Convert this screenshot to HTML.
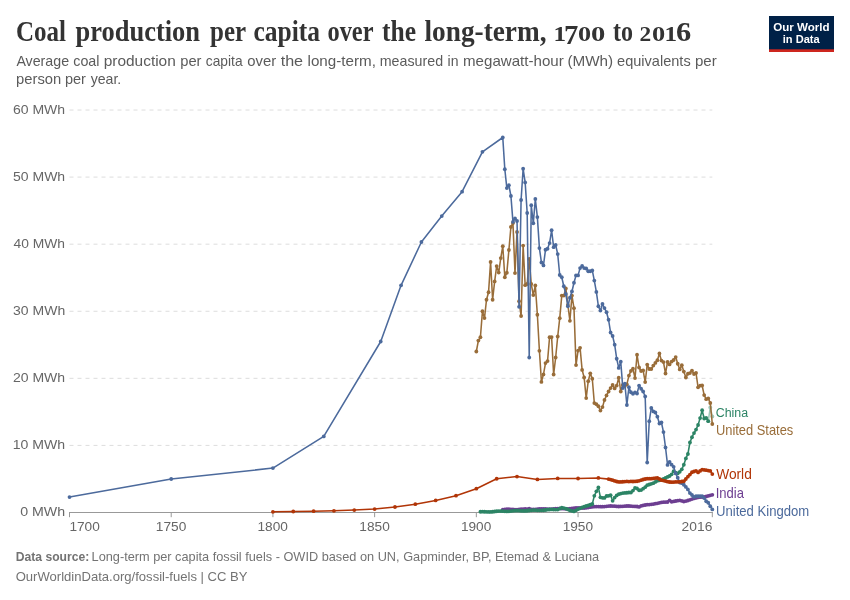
<!DOCTYPE html>
<html lang="en"><head><meta charset="utf-8"><title>Coal production per capita over the long-term, 1700 to 2016</title>
<style>
html,body{margin:0;padding:0;background:#fff;}
body{width:850px;height:600px;overflow:hidden;font-family:"Liberation Sans",sans-serif;}
svg{display:block;}
text{font-family:"Liberation Sans",sans-serif;}
.title text{font-family:"Liberation Serif",serif;font-weight:bold;font-size:27.5px;fill:#333;}
.sub text{font-size:14.8px;fill:#5b5b5b;}
.logot text{font-size:11.8px;font-weight:bold;fill:#fff;}
.ax text{font-size:13.4px;fill:#666;}
.foot text{font-size:13px;fill:#737373;}
.lab text{font-size:13.9px;}
</style></head><body>
<svg width="850" height="600" viewBox="0 0 850 600">
<rect width="850" height="600" fill="#fff"/>
<g class="title">
<text x="16.0" y="41.0" style="font-size:29.2px" textLength="50.03" lengthAdjust="spacingAndGlyphs">Coal</text>
<text x="75.5" y="41.0" style="font-size:29.2px" textLength="124.5" lengthAdjust="spacingAndGlyphs">production</text>
<text x="210.0" y="41.0" style="font-size:29.2px" textLength="36.04" lengthAdjust="spacingAndGlyphs">per</text>
<text x="253.5" y="41.0" style="font-size:29.2px" textLength="66.51" lengthAdjust="spacingAndGlyphs">capita</text>
<text x="327.5" y="41.0" style="font-size:29.2px" textLength="46.02" lengthAdjust="spacingAndGlyphs">over</text>
<text x="382.0" y="41.0" style="font-size:29.2px" textLength="34.01" lengthAdjust="spacingAndGlyphs">the</text>
<text x="424.5" y="41.0" style="font-size:29.2px" textLength="122.02" lengthAdjust="spacingAndGlyphs">long-term,</text>
<text x="553.5" y="41.0" style="font-size:21.8px" textLength="12.55" lengthAdjust="spacingAndGlyphs">1</text><text x="564.0" y="43.8" style="font-size:26.3px" textLength="14.32" lengthAdjust="spacingAndGlyphs">7</text><text x="578.0" y="41.0" style="font-size:21.8px" textLength="13.13" lengthAdjust="spacingAndGlyphs">0</text><text x="591.0" y="41.0" style="font-size:21.8px" textLength="14.32" lengthAdjust="spacingAndGlyphs">0</text>
<text x="613.0" y="41.0" style="font-size:29.2px" textLength="20.03" lengthAdjust="spacingAndGlyphs">to</text>
<text x="639.5" y="41.0" style="font-size:21.8px" textLength="11.71" lengthAdjust="spacingAndGlyphs">2</text><text x="652.0" y="41.0" style="font-size:21.8px" textLength="13.22" lengthAdjust="spacingAndGlyphs">0</text><text x="664.5" y="41.0" style="font-size:21.8px" textLength="12.55" lengthAdjust="spacingAndGlyphs">1</text><text x="676.0" y="41.0" style="font-size:27.2px" textLength="15.22" lengthAdjust="spacingAndGlyphs">6</text>
</g>
<g class="sub"><text x="16.38" y="66.0" style="font-size:14.8px" textLength="52.72" lengthAdjust="spacingAndGlyphs">Average</text>
<text x="73.28" y="66.0" style="font-size:14.8px" textLength="26.21" lengthAdjust="spacingAndGlyphs">coal</text>
<text x="103.66" y="66.0" style="font-size:14.8px" textLength="72.14" lengthAdjust="spacingAndGlyphs">production</text>
<text x="180.24" y="66.0" style="font-size:14.8px" textLength="21.24" lengthAdjust="spacingAndGlyphs">per</text>
<text x="205.86" y="66.0" style="font-size:14.8px" textLength="36.67" lengthAdjust="spacingAndGlyphs">capita</text>
<text x="247.2" y="66.0" style="font-size:14.8px" textLength="28.95" lengthAdjust="spacingAndGlyphs">over</text>
<text x="280.65" y="66.0" style="font-size:14.8px" textLength="22.46" lengthAdjust="spacingAndGlyphs">the</text>
<text x="307.56" y="66.0" style="font-size:14.8px" textLength="68.35" lengthAdjust="spacingAndGlyphs">long-term,</text>
<text x="379.75" y="66.0" style="font-size:14.8px" textLength="63.31" lengthAdjust="spacingAndGlyphs">measured</text>
<text x="447.56" y="66.0" style="font-size:14.8px" textLength="10.94" lengthAdjust="spacingAndGlyphs">in</text>
<text x="463.04" y="66.0" style="font-size:14.8px" textLength="100.75" lengthAdjust="spacingAndGlyphs">megawatt-hour</text>
<text x="567.4" y="66.0" style="font-size:14.8px" textLength="45.79" lengthAdjust="spacingAndGlyphs">(MWh)</text>
<text x="617.08" y="66.0" style="font-size:14.8px" textLength="73.6" lengthAdjust="spacingAndGlyphs">equivalents</text>
<text x="695.0" y="66.0" style="font-size:14.8px" textLength="21.76" lengthAdjust="spacingAndGlyphs">per</text>
<text x="16.04" y="84.3" style="font-size:14.8px" textLength="45.17" lengthAdjust="spacingAndGlyphs">person</text>
<text x="64.9" y="84.3" style="font-size:14.8px" textLength="20.97" lengthAdjust="spacingAndGlyphs">per</text>
<text x="90.67" y="84.3" style="font-size:14.8px" textLength="30.61" lengthAdjust="spacingAndGlyphs">year.</text>
</g>
<g id="logo"><rect x="769" y="16" width="65" height="36" fill="#002147"/><rect x="769" y="49.3" width="65" height="2.7" fill="#CE261E"/>
<g class="logot"><text x="773.19" y="30.8" style="font-size:11.8px" textLength="56.33" lengthAdjust="spacingAndGlyphs">Our World</text>
<text x="782.7" y="42.6" style="font-size:11.8px" textLength="36.99" lengthAdjust="spacingAndGlyphs">in Data</text>
</g></g>
<g stroke="#ddd" stroke-width="1" stroke-dasharray="4,4" fill="none"><line x1="69.5" x2="712.3" y1="445.42" y2="445.42"/><line x1="69.5" x2="712.3" y1="378.34" y2="378.34"/><line x1="69.5" x2="712.3" y1="311.26" y2="311.26"/><line x1="69.5" x2="712.3" y1="244.18" y2="244.18"/><line x1="69.5" x2="712.3" y1="177.10" y2="177.10"/><line x1="69.5" x2="712.3" y1="110.02" y2="110.02"/></g>
<g class="ax"><text x="20.15" y="516.4" style="font-size:13.4px" textLength="44.95" lengthAdjust="spacingAndGlyphs">0 MWh</text>
<text x="12.65" y="449.33" style="font-size:13.4px" textLength="52.43" lengthAdjust="spacingAndGlyphs">10 MWh</text>
<text x="12.97" y="382.26" style="font-size:13.4px" textLength="52.18" lengthAdjust="spacingAndGlyphs">20 MWh</text>
<text x="13.07" y="315.19" style="font-size:13.4px" textLength="52.1" lengthAdjust="spacingAndGlyphs">30 MWh</text>
<text x="13.5" y="248.12" style="font-size:13.4px" textLength="51.51" lengthAdjust="spacingAndGlyphs">40 MWh</text>
<text x="13.03" y="181.05" style="font-size:13.4px" textLength="52.15" lengthAdjust="spacingAndGlyphs">50 MWh</text>
<text x="12.96" y="113.98" style="font-size:13.4px" textLength="52.19" lengthAdjust="spacingAndGlyphs">60 MWh</text>
<text x="69.41" y="530.6" style="font-size:13.4px" textLength="30.41" lengthAdjust="spacingAndGlyphs">1700</text>
<text x="155.79" y="530.6" style="font-size:13.4px" textLength="30.47" lengthAdjust="spacingAndGlyphs">1750</text>
<text x="257.49" y="530.6" style="font-size:13.4px" textLength="30.4" lengthAdjust="spacingAndGlyphs">1800</text>
<text x="359.32" y="530.6" style="font-size:13.4px" textLength="30.43" lengthAdjust="spacingAndGlyphs">1850</text>
<text x="460.9" y="530.6" style="font-size:13.4px" textLength="30.35" lengthAdjust="spacingAndGlyphs">1900</text>
<text x="562.67" y="530.6" style="font-size:13.4px" textLength="30.38" lengthAdjust="spacingAndGlyphs">1950</text>
<text x="681.58" y="530.6" style="font-size:13.4px" textLength="30.77" lengthAdjust="spacingAndGlyphs">2016</text>
</g>
<g stroke="#999" stroke-width="1"><line x1="69" x2="712.8" y1="512.5" y2="512.5"/><line x1="69.50" x2="69.50" y1="512" y2="517.2"/><line x1="171.21" x2="171.21" y1="512" y2="517.2"/><line x1="272.92" x2="272.92" y1="512" y2="517.2"/><line x1="374.63" x2="374.63" y1="512" y2="517.2"/><line x1="476.34" x2="476.34" y1="512" y2="517.2"/><line x1="578.05" x2="578.05" y1="512" y2="517.2"/><line x1="712.31" x2="712.31" y1="512" y2="517.2"/></g>
<g id="lines">
<path d="M502.78,509.53 L504.82,509.33 L506.85,509.21 L508.89,509.21 L510.92,509.33 L512.96,509.48 L514.99,509.58 L517.02,509.56 L519.06,509.41 L521.09,509.21 L523.13,509.04 L525.16,508.98 L527.19,509.05 L529.23,508.63 L531.26,509.39 L533.30,509.42 L535.33,509.31 L537.37,509.11 L539.40,508.90 L541.43,508.78 L543.47,508.79 L545.50,508.90 L547.54,509.04 L549.57,509.13 L551.61,509.08 L553.64,508.92 L555.67,508.70 L557.71,508.53 L559.74,508.47 L561.78,508.54 L563.81,508.68 L565.84,508.80 L567.88,508.82 L569.91,508.71 L571.95,508.50 L573.98,508.21 L576.02,508.00 L578.05,507.93 L580.08,507.96 L582.12,508.01 L584.15,507.99 L586.19,507.85 L588.22,507.59 L590.26,507.20 L592.29,506.87 L594.32,506.66 L596.36,506.58 L598.39,506.56 L600.43,506.66 L602.46,506.66 L604.49,506.53 L606.53,506.32 L608.56,506.11 L610.60,506.00 L612.63,506.06 L614.67,506.22 L616.70,506.40 L618.73,506.49 L620.77,506.46 L622.80,506.32 L624.84,506.14 L626.87,506.02 L628.90,506.02 L630.94,506.14 L632.97,506.32 L635.01,506.46 L637.04,506.50 L639.08,506.95 L641.11,505.97 L643.14,505.44 L645.18,505.02 L647.21,504.72 L649.25,504.53 L651.28,504.36 L653.32,504.10 L655.35,503.71 L657.38,503.29 L659.42,502.84 L661.45,502.46 L663.49,502.21 L665.52,502.07 L667.55,501.98 L669.59,500.42 L671.62,501.74 L673.66,501.41 L675.69,501.01 L677.73,500.63 L679.76,500.35 L681.79,500.88 L683.83,501.50 L685.86,501.04 L687.90,500.50 L689.93,499.82 L691.97,499.04 L694.00,498.43 L696.03,497.88 L698.07,497.47 L700.10,497.17 L702.14,497.01 L704.17,496.81 L706.20,496.49 L708.24,495.96 L710.27,495.36 L712.31,494.79" fill="none" stroke="#6D3E91" stroke-width="1.55" stroke-linejoin="round" stroke-linecap="round"/>
<g fill="#6D3E91"><circle cx="502.78" cy="509.53" r="1.9"/><circle cx="504.82" cy="509.33" r="1.9"/><circle cx="506.85" cy="509.21" r="1.9"/><circle cx="508.89" cy="509.21" r="1.9"/><circle cx="510.92" cy="509.33" r="1.9"/><circle cx="512.96" cy="509.48" r="1.9"/><circle cx="514.99" cy="509.58" r="1.9"/><circle cx="517.02" cy="509.56" r="1.9"/><circle cx="519.06" cy="509.41" r="1.9"/><circle cx="521.09" cy="509.21" r="1.9"/><circle cx="523.13" cy="509.04" r="1.9"/><circle cx="525.16" cy="508.98" r="1.9"/><circle cx="527.19" cy="509.05" r="1.9"/><circle cx="529.23" cy="508.63" r="1.9"/><circle cx="531.26" cy="509.39" r="1.9"/><circle cx="533.30" cy="509.42" r="1.9"/><circle cx="535.33" cy="509.31" r="1.9"/><circle cx="537.37" cy="509.11" r="1.9"/><circle cx="539.40" cy="508.90" r="1.9"/><circle cx="541.43" cy="508.78" r="1.9"/><circle cx="543.47" cy="508.79" r="1.9"/><circle cx="545.50" cy="508.90" r="1.9"/><circle cx="547.54" cy="509.04" r="1.9"/><circle cx="549.57" cy="509.13" r="1.9"/><circle cx="551.61" cy="509.08" r="1.9"/><circle cx="553.64" cy="508.92" r="1.9"/><circle cx="555.67" cy="508.70" r="1.9"/><circle cx="557.71" cy="508.53" r="1.9"/><circle cx="559.74" cy="508.47" r="1.9"/><circle cx="561.78" cy="508.54" r="1.9"/><circle cx="563.81" cy="508.68" r="1.9"/><circle cx="565.84" cy="508.80" r="1.9"/><circle cx="567.88" cy="508.82" r="1.9"/><circle cx="569.91" cy="508.71" r="1.9"/><circle cx="571.95" cy="508.50" r="1.9"/><circle cx="573.98" cy="508.21" r="1.9"/><circle cx="576.02" cy="508.00" r="1.9"/><circle cx="578.05" cy="507.93" r="1.9"/><circle cx="580.08" cy="507.96" r="1.9"/><circle cx="582.12" cy="508.01" r="1.9"/><circle cx="584.15" cy="507.99" r="1.9"/><circle cx="586.19" cy="507.85" r="1.9"/><circle cx="588.22" cy="507.59" r="1.9"/><circle cx="590.26" cy="507.20" r="1.9"/><circle cx="592.29" cy="506.87" r="1.9"/><circle cx="594.32" cy="506.66" r="1.9"/><circle cx="596.36" cy="506.58" r="1.9"/><circle cx="598.39" cy="506.56" r="1.9"/><circle cx="600.43" cy="506.66" r="1.9"/><circle cx="602.46" cy="506.66" r="1.9"/><circle cx="604.49" cy="506.53" r="1.9"/><circle cx="606.53" cy="506.32" r="1.9"/><circle cx="608.56" cy="506.11" r="1.9"/><circle cx="610.60" cy="506.00" r="1.9"/><circle cx="612.63" cy="506.06" r="1.9"/><circle cx="614.67" cy="506.22" r="1.9"/><circle cx="616.70" cy="506.40" r="1.9"/><circle cx="618.73" cy="506.49" r="1.9"/><circle cx="620.77" cy="506.46" r="1.9"/><circle cx="622.80" cy="506.32" r="1.9"/><circle cx="624.84" cy="506.14" r="1.9"/><circle cx="626.87" cy="506.02" r="1.9"/><circle cx="628.90" cy="506.02" r="1.9"/><circle cx="630.94" cy="506.14" r="1.9"/><circle cx="632.97" cy="506.32" r="1.9"/><circle cx="635.01" cy="506.46" r="1.9"/><circle cx="637.04" cy="506.50" r="1.9"/><circle cx="639.08" cy="506.95" r="1.9"/><circle cx="641.11" cy="505.97" r="1.9"/><circle cx="643.14" cy="505.44" r="1.9"/><circle cx="645.18" cy="505.02" r="1.9"/><circle cx="647.21" cy="504.72" r="1.9"/><circle cx="649.25" cy="504.53" r="1.9"/><circle cx="651.28" cy="504.36" r="1.9"/><circle cx="653.32" cy="504.10" r="1.9"/><circle cx="655.35" cy="503.71" r="1.9"/><circle cx="657.38" cy="503.29" r="1.9"/><circle cx="659.42" cy="502.84" r="1.9"/><circle cx="661.45" cy="502.46" r="1.9"/><circle cx="663.49" cy="502.21" r="1.9"/><circle cx="665.52" cy="502.07" r="1.9"/><circle cx="667.55" cy="501.98" r="1.9"/><circle cx="669.59" cy="500.42" r="1.9"/><circle cx="671.62" cy="501.74" r="1.9"/><circle cx="673.66" cy="501.41" r="1.9"/><circle cx="675.69" cy="501.01" r="1.9"/><circle cx="677.73" cy="500.63" r="1.9"/><circle cx="679.76" cy="500.35" r="1.9"/><circle cx="681.79" cy="500.88" r="1.9"/><circle cx="683.83" cy="501.50" r="1.9"/><circle cx="685.86" cy="501.04" r="1.9"/><circle cx="687.90" cy="500.50" r="1.9"/><circle cx="689.93" cy="499.82" r="1.9"/><circle cx="691.97" cy="499.04" r="1.9"/><circle cx="694.00" cy="498.43" r="1.9"/><circle cx="696.03" cy="497.88" r="1.9"/><circle cx="698.07" cy="497.47" r="1.9"/><circle cx="700.10" cy="497.17" r="1.9"/><circle cx="702.14" cy="497.01" r="1.9"/><circle cx="704.17" cy="496.81" r="1.9"/><circle cx="706.20" cy="496.49" r="1.9"/><circle cx="708.24" cy="495.96" r="1.9"/><circle cx="710.27" cy="495.36" r="1.9"/><circle cx="712.31" cy="494.79" r="1.9"/></g>

<path d="M480.41,511.77 L482.44,511.69 L484.48,511.74 L486.51,511.85 L488.55,511.93 L490.58,511.90 L492.61,511.74 L494.65,511.50 L496.68,511.26 L498.72,511.12 L500.75,511.11 L502.78,511.21 L504.82,511.33 L506.85,511.38 L508.89,511.29 L510.92,511.09 L512.96,510.86 L514.99,510.68 L517.02,510.62 L519.06,510.69 L521.09,510.81 L523.13,510.90 L525.16,510.88 L527.19,510.73 L529.23,510.50 L531.26,510.28 L533.30,510.16 L535.33,510.18 L537.37,510.28 L539.40,510.37 L541.43,510.36 L543.47,510.23 L545.50,509.99 L547.54,509.72 L549.57,509.51 L551.61,509.43 L553.64,509.48 L555.67,509.57 L557.71,509.62 L559.74,508.69 L561.78,507.64 L563.81,508.08 L565.84,508.55 L567.88,509.43 L569.91,510.43 L571.95,510.92 L573.98,511.42 L576.02,510.37 L578.05,509.20 L580.08,508.29 L582.12,507.37 L584.15,506.63 L586.19,506.01 L588.22,505.51 L590.26,504.77 L592.29,503.98 L594.32,495.84 L596.36,491.37 L598.39,487.44 L600.43,497.29 L602.46,497.85 L604.49,497.94 L606.53,496.01 L608.56,495.78 L610.60,495.25 L612.63,500.79 L614.67,497.53 L616.70,495.45 L618.73,494.16 L620.77,493.54 L622.80,493.03 L624.84,492.93 L626.87,492.77 L628.90,492.48 L630.94,492.51 L632.97,490.53 L635.01,487.89 L637.04,488.50 L639.08,490.25 L641.11,490.03 L643.14,488.64 L645.18,487.15 L647.21,485.18 L649.25,484.52 L651.28,483.84 L653.32,483.15 L655.35,481.94 L657.38,480.84 L659.42,480.32 L661.45,479.67 L663.49,478.89 L665.52,478.00 L667.55,476.97 L669.59,475.98 L671.62,474.36 L673.66,471.16 L675.69,472.54 L677.73,473.40 L679.76,471.85 L681.79,469.37 L683.83,464.75 L685.86,458.40 L687.90,454.00 L689.93,442.50 L691.97,437.25 L694.00,433.10 L696.03,429.60 L698.07,425.00 L700.10,418.10 L702.14,410.25 L704.17,418.50 L706.20,418.00 L708.24,421.20" fill="none" stroke="#2C8465" stroke-width="1.55" stroke-linejoin="round" stroke-linecap="round"/>
<g fill="#2C8465"><circle cx="480.41" cy="511.77" r="1.9"/><circle cx="482.44" cy="511.69" r="1.9"/><circle cx="484.48" cy="511.74" r="1.9"/><circle cx="486.51" cy="511.85" r="1.9"/><circle cx="488.55" cy="511.93" r="1.9"/><circle cx="490.58" cy="511.90" r="1.9"/><circle cx="492.61" cy="511.74" r="1.9"/><circle cx="494.65" cy="511.50" r="1.9"/><circle cx="496.68" cy="511.26" r="1.9"/><circle cx="498.72" cy="511.12" r="1.9"/><circle cx="500.75" cy="511.11" r="1.9"/><circle cx="502.78" cy="511.21" r="1.9"/><circle cx="504.82" cy="511.33" r="1.9"/><circle cx="506.85" cy="511.38" r="1.9"/><circle cx="508.89" cy="511.29" r="1.9"/><circle cx="510.92" cy="511.09" r="1.9"/><circle cx="512.96" cy="510.86" r="1.9"/><circle cx="514.99" cy="510.68" r="1.9"/><circle cx="517.02" cy="510.62" r="1.9"/><circle cx="519.06" cy="510.69" r="1.9"/><circle cx="521.09" cy="510.81" r="1.9"/><circle cx="523.13" cy="510.90" r="1.9"/><circle cx="525.16" cy="510.88" r="1.9"/><circle cx="527.19" cy="510.73" r="1.9"/><circle cx="529.23" cy="510.50" r="1.9"/><circle cx="531.26" cy="510.28" r="1.9"/><circle cx="533.30" cy="510.16" r="1.9"/><circle cx="535.33" cy="510.18" r="1.9"/><circle cx="537.37" cy="510.28" r="1.9"/><circle cx="539.40" cy="510.37" r="1.9"/><circle cx="541.43" cy="510.36" r="1.9"/><circle cx="543.47" cy="510.23" r="1.9"/><circle cx="545.50" cy="509.99" r="1.9"/><circle cx="547.54" cy="509.72" r="1.9"/><circle cx="549.57" cy="509.51" r="1.9"/><circle cx="551.61" cy="509.43" r="1.9"/><circle cx="553.64" cy="509.48" r="1.9"/><circle cx="555.67" cy="509.57" r="1.9"/><circle cx="557.71" cy="509.62" r="1.9"/><circle cx="559.74" cy="508.69" r="1.9"/><circle cx="561.78" cy="507.64" r="1.9"/><circle cx="563.81" cy="508.08" r="1.9"/><circle cx="565.84" cy="508.55" r="1.9"/><circle cx="567.88" cy="509.43" r="1.9"/><circle cx="569.91" cy="510.43" r="1.9"/><circle cx="571.95" cy="510.92" r="1.9"/><circle cx="573.98" cy="511.42" r="1.9"/><circle cx="576.02" cy="510.37" r="1.9"/><circle cx="578.05" cy="509.20" r="1.9"/><circle cx="580.08" cy="508.29" r="1.9"/><circle cx="582.12" cy="507.37" r="1.9"/><circle cx="584.15" cy="506.63" r="1.9"/><circle cx="586.19" cy="506.01" r="1.9"/><circle cx="588.22" cy="505.51" r="1.9"/><circle cx="590.26" cy="504.77" r="1.9"/><circle cx="592.29" cy="503.98" r="1.9"/><circle cx="594.32" cy="495.84" r="1.9"/><circle cx="596.36" cy="491.37" r="1.9"/><circle cx="598.39" cy="487.44" r="1.9"/><circle cx="600.43" cy="497.29" r="1.9"/><circle cx="602.46" cy="497.85" r="1.9"/><circle cx="604.49" cy="497.94" r="1.9"/><circle cx="606.53" cy="496.01" r="1.9"/><circle cx="608.56" cy="495.78" r="1.9"/><circle cx="610.60" cy="495.25" r="1.9"/><circle cx="612.63" cy="500.79" r="1.9"/><circle cx="614.67" cy="497.53" r="1.9"/><circle cx="616.70" cy="495.45" r="1.9"/><circle cx="618.73" cy="494.16" r="1.9"/><circle cx="620.77" cy="493.54" r="1.9"/><circle cx="622.80" cy="493.03" r="1.9"/><circle cx="624.84" cy="492.93" r="1.9"/><circle cx="626.87" cy="492.77" r="1.9"/><circle cx="628.90" cy="492.48" r="1.9"/><circle cx="630.94" cy="492.51" r="1.9"/><circle cx="632.97" cy="490.53" r="1.9"/><circle cx="635.01" cy="487.89" r="1.9"/><circle cx="637.04" cy="488.50" r="1.9"/><circle cx="639.08" cy="490.25" r="1.9"/><circle cx="641.11" cy="490.03" r="1.9"/><circle cx="643.14" cy="488.64" r="1.9"/><circle cx="645.18" cy="487.15" r="1.9"/><circle cx="647.21" cy="485.18" r="1.9"/><circle cx="649.25" cy="484.52" r="1.9"/><circle cx="651.28" cy="483.84" r="1.9"/><circle cx="653.32" cy="483.15" r="1.9"/><circle cx="655.35" cy="481.94" r="1.9"/><circle cx="657.38" cy="480.84" r="1.9"/><circle cx="659.42" cy="480.32" r="1.9"/><circle cx="661.45" cy="479.67" r="1.9"/><circle cx="663.49" cy="478.89" r="1.9"/><circle cx="665.52" cy="478.00" r="1.9"/><circle cx="667.55" cy="476.97" r="1.9"/><circle cx="669.59" cy="475.98" r="1.9"/><circle cx="671.62" cy="474.36" r="1.9"/><circle cx="673.66" cy="471.16" r="1.9"/><circle cx="675.69" cy="472.54" r="1.9"/><circle cx="677.73" cy="473.40" r="1.9"/><circle cx="679.76" cy="471.85" r="1.9"/><circle cx="681.79" cy="469.37" r="1.9"/><circle cx="683.83" cy="464.75" r="1.9"/><circle cx="685.86" cy="458.40" r="1.9"/><circle cx="687.90" cy="454.00" r="1.9"/><circle cx="689.93" cy="442.50" r="1.9"/><circle cx="691.97" cy="437.25" r="1.9"/><circle cx="694.00" cy="433.10" r="1.9"/><circle cx="696.03" cy="429.60" r="1.9"/><circle cx="698.07" cy="425.00" r="1.9"/><circle cx="700.10" cy="418.10" r="1.9"/><circle cx="702.14" cy="410.25" r="1.9"/><circle cx="704.17" cy="418.50" r="1.9"/><circle cx="706.20" cy="418.00" r="1.9"/><circle cx="708.24" cy="421.20" r="1.9"/></g>
<g opacity="0.45"><path d="M708.24,421.20 L710.27,407.50 L712.31,416.50" fill="none" stroke="#2C8465" stroke-width="1.55" stroke-linejoin="round" stroke-linecap="round"/>
<g fill="#2C8465"><circle cx="708.24" cy="421.20" r="1.9"/><circle cx="710.27" cy="407.50" r="1.9"/><circle cx="712.31" cy="416.50" r="1.9"/></g>
</g>
<path d="M476.34,351.50 L478.37,340.60 L480.41,337.25 L482.44,311.25 L484.48,318.10 L486.51,299.75 L488.55,292.25 L490.58,261.90 L492.61,299.75 L494.65,281.40 L496.68,266.10 L498.72,272.60 L500.75,258.10 L502.78,246.25 L504.82,277.25 L506.85,272.75 L508.89,250.00 L510.92,226.90 L512.96,223.10 L514.99,273.10 L517.02,232.00 L519.06,301.25 L521.09,316.00 L523.13,245.60 L525.16,285.20 L527.19,284.00 L529.23,259.00 L531.26,284.00 L533.30,295.10 L535.33,285.50 L537.37,314.75 L539.40,350.80 L541.43,381.90 L543.47,374.40 L545.50,363.10 L547.54,361.10 L549.57,337.25 L551.61,337.10 L553.64,374.50 L555.67,357.50 L557.71,336.50 L559.74,318.20 L561.78,295.60 L563.81,295.60 L565.84,288.50 L567.88,305.00 L569.91,320.80 L571.95,295.60 L573.98,308.20 L576.02,365.10 L578.05,350.60 L580.08,347.80 L582.12,369.90 L584.15,377.50 L586.19,398.10 L588.22,381.25 L590.26,373.30 L592.29,378.75 L594.32,403.10 L596.36,404.20 L598.39,406.25 L600.43,410.60 L602.46,407.10 L604.49,400.00 L606.53,395.40 L608.56,391.50 L610.60,388.10 L612.63,385.00 L614.67,388.40 L616.70,385.60 L618.73,377.75 L620.77,391.50 L622.80,385.00 L624.84,386.00 L626.87,384.40 L628.90,375.60 L630.94,370.90 L632.97,368.75 L635.01,378.10 L637.04,354.75 L639.08,367.50 L641.11,371.00 L643.14,370.40 L645.18,382.10 L647.21,364.60 L649.25,369.00 L651.28,369.00 L653.32,365.60 L655.35,362.90 L657.38,360.25 L659.42,353.50 L661.45,360.60 L663.49,362.10 L665.52,373.50 L667.55,361.90 L669.59,364.40 L671.62,361.60 L673.66,360.00 L675.69,357.10 L677.73,363.75 L679.76,369.40 L681.79,365.25 L683.83,371.60 L685.86,377.50 L687.90,373.75 L689.93,373.10 L691.97,370.60 L694.00,374.00 L696.03,373.00 L698.07,387.30 L700.10,385.70 L702.14,385.50 L704.17,395.10 L706.20,399.20 L708.24,398.40 L710.27,403.00 L712.31,424.00" fill="none" stroke="#996D39" stroke-width="1.55" stroke-linejoin="round" stroke-linecap="round"/>
<g fill="#996D39"><circle cx="476.34" cy="351.50" r="1.9"/><circle cx="478.37" cy="340.60" r="1.9"/><circle cx="480.41" cy="337.25" r="1.9"/><circle cx="482.44" cy="311.25" r="1.9"/><circle cx="484.48" cy="318.10" r="1.9"/><circle cx="486.51" cy="299.75" r="1.9"/><circle cx="488.55" cy="292.25" r="1.9"/><circle cx="490.58" cy="261.90" r="1.9"/><circle cx="492.61" cy="299.75" r="1.9"/><circle cx="494.65" cy="281.40" r="1.9"/><circle cx="496.68" cy="266.10" r="1.9"/><circle cx="498.72" cy="272.60" r="1.9"/><circle cx="500.75" cy="258.10" r="1.9"/><circle cx="502.78" cy="246.25" r="1.9"/><circle cx="504.82" cy="277.25" r="1.9"/><circle cx="506.85" cy="272.75" r="1.9"/><circle cx="508.89" cy="250.00" r="1.9"/><circle cx="510.92" cy="226.90" r="1.9"/><circle cx="512.96" cy="223.10" r="1.9"/><circle cx="514.99" cy="273.10" r="1.9"/><circle cx="517.02" cy="232.00" r="1.9"/><circle cx="519.06" cy="301.25" r="1.9"/><circle cx="521.09" cy="316.00" r="1.9"/><circle cx="523.13" cy="245.60" r="1.9"/><circle cx="525.16" cy="285.20" r="1.9"/><circle cx="527.19" cy="284.00" r="1.9"/><circle cx="529.23" cy="259.00" r="1.9"/><circle cx="531.26" cy="284.00" r="1.9"/><circle cx="533.30" cy="295.10" r="1.9"/><circle cx="535.33" cy="285.50" r="1.9"/><circle cx="537.37" cy="314.75" r="1.9"/><circle cx="539.40" cy="350.80" r="1.9"/><circle cx="541.43" cy="381.90" r="1.9"/><circle cx="543.47" cy="374.40" r="1.9"/><circle cx="545.50" cy="363.10" r="1.9"/><circle cx="547.54" cy="361.10" r="1.9"/><circle cx="549.57" cy="337.25" r="1.9"/><circle cx="551.61" cy="337.10" r="1.9"/><circle cx="553.64" cy="374.50" r="1.9"/><circle cx="555.67" cy="357.50" r="1.9"/><circle cx="557.71" cy="336.50" r="1.9"/><circle cx="559.74" cy="318.20" r="1.9"/><circle cx="561.78" cy="295.60" r="1.9"/><circle cx="563.81" cy="295.60" r="1.9"/><circle cx="565.84" cy="288.50" r="1.9"/><circle cx="567.88" cy="305.00" r="1.9"/><circle cx="569.91" cy="320.80" r="1.9"/><circle cx="571.95" cy="295.60" r="1.9"/><circle cx="573.98" cy="308.20" r="1.9"/><circle cx="576.02" cy="365.10" r="1.9"/><circle cx="578.05" cy="350.60" r="1.9"/><circle cx="580.08" cy="347.80" r="1.9"/><circle cx="582.12" cy="369.90" r="1.9"/><circle cx="584.15" cy="377.50" r="1.9"/><circle cx="586.19" cy="398.10" r="1.9"/><circle cx="588.22" cy="381.25" r="1.9"/><circle cx="590.26" cy="373.30" r="1.9"/><circle cx="592.29" cy="378.75" r="1.9"/><circle cx="594.32" cy="403.10" r="1.9"/><circle cx="596.36" cy="404.20" r="1.9"/><circle cx="598.39" cy="406.25" r="1.9"/><circle cx="600.43" cy="410.60" r="1.9"/><circle cx="602.46" cy="407.10" r="1.9"/><circle cx="604.49" cy="400.00" r="1.9"/><circle cx="606.53" cy="395.40" r="1.9"/><circle cx="608.56" cy="391.50" r="1.9"/><circle cx="610.60" cy="388.10" r="1.9"/><circle cx="612.63" cy="385.00" r="1.9"/><circle cx="614.67" cy="388.40" r="1.9"/><circle cx="616.70" cy="385.60" r="1.9"/><circle cx="618.73" cy="377.75" r="1.9"/><circle cx="620.77" cy="391.50" r="1.9"/><circle cx="622.80" cy="385.00" r="1.9"/><circle cx="624.84" cy="386.00" r="1.9"/><circle cx="626.87" cy="384.40" r="1.9"/><circle cx="628.90" cy="375.60" r="1.9"/><circle cx="630.94" cy="370.90" r="1.9"/><circle cx="632.97" cy="368.75" r="1.9"/><circle cx="635.01" cy="378.10" r="1.9"/><circle cx="637.04" cy="354.75" r="1.9"/><circle cx="639.08" cy="367.50" r="1.9"/><circle cx="641.11" cy="371.00" r="1.9"/><circle cx="643.14" cy="370.40" r="1.9"/><circle cx="645.18" cy="382.10" r="1.9"/><circle cx="647.21" cy="364.60" r="1.9"/><circle cx="649.25" cy="369.00" r="1.9"/><circle cx="651.28" cy="369.00" r="1.9"/><circle cx="653.32" cy="365.60" r="1.9"/><circle cx="655.35" cy="362.90" r="1.9"/><circle cx="657.38" cy="360.25" r="1.9"/><circle cx="659.42" cy="353.50" r="1.9"/><circle cx="661.45" cy="360.60" r="1.9"/><circle cx="663.49" cy="362.10" r="1.9"/><circle cx="665.52" cy="373.50" r="1.9"/><circle cx="667.55" cy="361.90" r="1.9"/><circle cx="669.59" cy="364.40" r="1.9"/><circle cx="671.62" cy="361.60" r="1.9"/><circle cx="673.66" cy="360.00" r="1.9"/><circle cx="675.69" cy="357.10" r="1.9"/><circle cx="677.73" cy="363.75" r="1.9"/><circle cx="679.76" cy="369.40" r="1.9"/><circle cx="681.79" cy="365.25" r="1.9"/><circle cx="683.83" cy="371.60" r="1.9"/><circle cx="685.86" cy="377.50" r="1.9"/><circle cx="687.90" cy="373.75" r="1.9"/><circle cx="689.93" cy="373.10" r="1.9"/><circle cx="691.97" cy="370.60" r="1.9"/><circle cx="694.00" cy="374.00" r="1.9"/><circle cx="696.03" cy="373.00" r="1.9"/><circle cx="698.07" cy="387.30" r="1.9"/><circle cx="700.10" cy="385.70" r="1.9"/><circle cx="702.14" cy="385.50" r="1.9"/><circle cx="704.17" cy="395.10" r="1.9"/><circle cx="706.20" cy="399.20" r="1.9"/><circle cx="708.24" cy="398.40" r="1.9"/><circle cx="710.27" cy="403.00" r="1.9"/><circle cx="712.31" cy="424.00" r="1.9"/></g>

<path d="M69.50,497.10 L171.21,479.00 L272.92,468.10 L323.77,436.40 L380.73,341.50 L401.07,285.30 L421.42,242.00 L441.76,216.10 L462.10,191.70 L482.44,151.80 L502.78,137.50 L504.82,169.25 L506.85,188.10 L508.89,185.25 L510.92,196.00 L512.96,221.90 L514.99,218.50 L517.02,221.00 L519.06,306.80 L521.09,200.00 L523.13,168.75 L525.16,182.40 L527.19,213.00 L529.23,357.50 L531.26,205.25 L533.30,223.25 L535.33,199.00 L537.37,217.10 L539.40,248.10 L541.43,262.50 L543.47,265.40 L545.50,249.75 L547.54,248.75 L549.57,243.10 L551.61,230.25 L553.64,247.20 L555.67,245.00 L557.71,254.10 L559.74,275.00 L561.78,277.25 L563.81,286.25 L565.84,294.00 L567.88,306.25 L569.91,297.75 L571.95,291.50 L573.98,282.75 L576.02,275.40 L578.05,275.40 L580.08,268.10 L582.12,266.00 L584.15,268.10 L586.19,268.50 L588.22,271.25 L590.26,271.25 L592.29,270.40 L594.32,280.60 L596.36,291.90 L598.39,306.25 L600.43,310.60 L602.46,304.00 L604.49,308.10 L606.53,312.25 L608.56,319.75 L610.60,332.50 L612.63,336.00 L614.67,344.70 L616.70,358.75 L618.73,367.90 L620.77,361.70 L622.80,388.10 L624.84,383.75 L626.87,405.00 L628.90,387.25 L630.94,392.25 L632.97,393.75 L635.01,392.50 L637.04,393.50 L639.08,385.60 L641.11,388.75 L643.14,391.50 L645.18,396.50 L647.21,462.50 L649.25,421.25 L651.28,408.00 L653.32,411.40 L655.35,412.50 L657.38,416.70 L659.42,423.50 L661.45,422.50 L663.49,432.10 L665.52,447.50 L667.55,464.90 L669.59,462.00 L671.62,464.70 L673.66,466.80 L675.69,473.40 L677.73,477.75 L679.76,482.50 L681.79,483.20 L683.83,484.75 L685.86,486.90 L687.90,489.40 L689.93,493.10 L691.97,495.00 L694.00,496.90 L696.03,496.25 L698.07,496.25 L700.10,496.25 L702.14,496.25 L704.17,498.10 L706.20,501.25 L708.24,502.75 L710.27,506.25 L712.31,509.40" fill="none" stroke="#4C6A9C" stroke-width="1.55" stroke-linejoin="round" stroke-linecap="round"/>
<g fill="#4C6A9C"><circle cx="69.50" cy="497.10" r="1.9"/><circle cx="171.21" cy="479.00" r="1.9"/><circle cx="272.92" cy="468.10" r="1.9"/><circle cx="323.77" cy="436.40" r="1.9"/><circle cx="380.73" cy="341.50" r="1.9"/><circle cx="401.07" cy="285.30" r="1.9"/><circle cx="421.42" cy="242.00" r="1.9"/><circle cx="441.76" cy="216.10" r="1.9"/><circle cx="462.10" cy="191.70" r="1.9"/><circle cx="482.44" cy="151.80" r="1.9"/><circle cx="502.78" cy="137.50" r="1.9"/><circle cx="504.82" cy="169.25" r="1.9"/><circle cx="506.85" cy="188.10" r="1.9"/><circle cx="508.89" cy="185.25" r="1.9"/><circle cx="510.92" cy="196.00" r="1.9"/><circle cx="512.96" cy="221.90" r="1.9"/><circle cx="514.99" cy="218.50" r="1.9"/><circle cx="517.02" cy="221.00" r="1.9"/><circle cx="519.06" cy="306.80" r="1.9"/><circle cx="521.09" cy="200.00" r="1.9"/><circle cx="523.13" cy="168.75" r="1.9"/><circle cx="525.16" cy="182.40" r="1.9"/><circle cx="527.19" cy="213.00" r="1.9"/><circle cx="529.23" cy="357.50" r="1.9"/><circle cx="531.26" cy="205.25" r="1.9"/><circle cx="533.30" cy="223.25" r="1.9"/><circle cx="535.33" cy="199.00" r="1.9"/><circle cx="537.37" cy="217.10" r="1.9"/><circle cx="539.40" cy="248.10" r="1.9"/><circle cx="541.43" cy="262.50" r="1.9"/><circle cx="543.47" cy="265.40" r="1.9"/><circle cx="545.50" cy="249.75" r="1.9"/><circle cx="547.54" cy="248.75" r="1.9"/><circle cx="549.57" cy="243.10" r="1.9"/><circle cx="551.61" cy="230.25" r="1.9"/><circle cx="553.64" cy="247.20" r="1.9"/><circle cx="555.67" cy="245.00" r="1.9"/><circle cx="557.71" cy="254.10" r="1.9"/><circle cx="559.74" cy="275.00" r="1.9"/><circle cx="561.78" cy="277.25" r="1.9"/><circle cx="563.81" cy="286.25" r="1.9"/><circle cx="565.84" cy="294.00" r="1.9"/><circle cx="567.88" cy="306.25" r="1.9"/><circle cx="569.91" cy="297.75" r="1.9"/><circle cx="571.95" cy="291.50" r="1.9"/><circle cx="573.98" cy="282.75" r="1.9"/><circle cx="576.02" cy="275.40" r="1.9"/><circle cx="578.05" cy="275.40" r="1.9"/><circle cx="580.08" cy="268.10" r="1.9"/><circle cx="582.12" cy="266.00" r="1.9"/><circle cx="584.15" cy="268.10" r="1.9"/><circle cx="586.19" cy="268.50" r="1.9"/><circle cx="588.22" cy="271.25" r="1.9"/><circle cx="590.26" cy="271.25" r="1.9"/><circle cx="592.29" cy="270.40" r="1.9"/><circle cx="594.32" cy="280.60" r="1.9"/><circle cx="596.36" cy="291.90" r="1.9"/><circle cx="598.39" cy="306.25" r="1.9"/><circle cx="600.43" cy="310.60" r="1.9"/><circle cx="602.46" cy="304.00" r="1.9"/><circle cx="604.49" cy="308.10" r="1.9"/><circle cx="606.53" cy="312.25" r="1.9"/><circle cx="608.56" cy="319.75" r="1.9"/><circle cx="610.60" cy="332.50" r="1.9"/><circle cx="612.63" cy="336.00" r="1.9"/><circle cx="614.67" cy="344.70" r="1.9"/><circle cx="616.70" cy="358.75" r="1.9"/><circle cx="618.73" cy="367.90" r="1.9"/><circle cx="620.77" cy="361.70" r="1.9"/><circle cx="622.80" cy="388.10" r="1.9"/><circle cx="624.84" cy="383.75" r="1.9"/><circle cx="626.87" cy="405.00" r="1.9"/><circle cx="628.90" cy="387.25" r="1.9"/><circle cx="630.94" cy="392.25" r="1.9"/><circle cx="632.97" cy="393.75" r="1.9"/><circle cx="635.01" cy="392.50" r="1.9"/><circle cx="637.04" cy="393.50" r="1.9"/><circle cx="639.08" cy="385.60" r="1.9"/><circle cx="641.11" cy="388.75" r="1.9"/><circle cx="643.14" cy="391.50" r="1.9"/><circle cx="645.18" cy="396.50" r="1.9"/><circle cx="647.21" cy="462.50" r="1.9"/><circle cx="649.25" cy="421.25" r="1.9"/><circle cx="651.28" cy="408.00" r="1.9"/><circle cx="653.32" cy="411.40" r="1.9"/><circle cx="655.35" cy="412.50" r="1.9"/><circle cx="657.38" cy="416.70" r="1.9"/><circle cx="659.42" cy="423.50" r="1.9"/><circle cx="661.45" cy="422.50" r="1.9"/><circle cx="663.49" cy="432.10" r="1.9"/><circle cx="665.52" cy="447.50" r="1.9"/><circle cx="667.55" cy="464.90" r="1.9"/><circle cx="669.59" cy="462.00" r="1.9"/><circle cx="671.62" cy="464.70" r="1.9"/><circle cx="673.66" cy="466.80" r="1.9"/><circle cx="675.69" cy="473.40" r="1.9"/><circle cx="677.73" cy="477.75" r="1.9"/><circle cx="679.76" cy="482.50" r="1.9"/><circle cx="681.79" cy="483.20" r="1.9"/><circle cx="683.83" cy="484.75" r="1.9"/><circle cx="685.86" cy="486.90" r="1.9"/><circle cx="687.90" cy="489.40" r="1.9"/><circle cx="689.93" cy="493.10" r="1.9"/><circle cx="691.97" cy="495.00" r="1.9"/><circle cx="694.00" cy="496.90" r="1.9"/><circle cx="696.03" cy="496.25" r="1.9"/><circle cx="698.07" cy="496.25" r="1.9"/><circle cx="700.10" cy="496.25" r="1.9"/><circle cx="702.14" cy="496.25" r="1.9"/><circle cx="704.17" cy="498.10" r="1.9"/><circle cx="706.20" cy="501.25" r="1.9"/><circle cx="708.24" cy="502.75" r="1.9"/><circle cx="710.27" cy="506.25" r="1.9"/><circle cx="712.31" cy="509.40" r="1.9"/></g>

<path d="M272.92,511.80 L293.26,511.50 L313.60,511.20 L333.95,510.80 L354.29,510.10 L374.63,509.10 L394.97,507.00 L415.31,504.20 L435.66,500.40 L456.00,495.70 L476.34,488.70 L496.68,478.75 L517.02,476.60 L537.37,479.40 L557.71,478.40 L578.05,478.50 L598.39,477.90 L608.56,479.11 L610.60,479.53 L612.63,480.16 L614.67,480.95 L616.70,481.48 L618.73,481.89 L620.77,481.92 L622.80,481.77 L624.84,481.56 L626.87,481.45 L628.90,481.53 L630.94,481.46 L632.97,481.49 L635.01,481.46 L637.04,481.25 L639.08,480.84 L641.11,480.16 L643.14,479.50 L645.18,479.00 L647.21,478.71 L649.25,478.66 L651.28,478.63 L653.32,478.46 L655.35,478.08 L657.38,477.89 L659.42,479.00 L661.45,480.22 L663.49,480.54 L665.52,481.04 L667.55,481.63 L669.59,481.98 L671.62,482.14 L673.66,482.09 L675.69,481.93 L677.73,481.81 L679.76,481.85 L681.79,481.48 L683.83,481.25 L685.86,479.02 L687.90,476.65 L689.93,474.54 L691.97,472.27 L694.00,471.48 L696.03,470.81 L698.07,472.40 L700.10,470.94 L702.14,469.55 L704.17,469.94 L706.20,470.13 L708.24,470.57 L710.27,470.91 L712.31,474.07" fill="none" stroke="#B13507" stroke-width="1.55" stroke-linejoin="round" stroke-linecap="round"/>
<g fill="#B13507"><circle cx="272.92" cy="511.80" r="1.9"/><circle cx="293.26" cy="511.50" r="1.9"/><circle cx="313.60" cy="511.20" r="1.9"/><circle cx="333.95" cy="510.80" r="1.9"/><circle cx="354.29" cy="510.10" r="1.9"/><circle cx="374.63" cy="509.10" r="1.9"/><circle cx="394.97" cy="507.00" r="1.9"/><circle cx="415.31" cy="504.20" r="1.9"/><circle cx="435.66" cy="500.40" r="1.9"/><circle cx="456.00" cy="495.70" r="1.9"/><circle cx="476.34" cy="488.70" r="1.9"/><circle cx="496.68" cy="478.75" r="1.9"/><circle cx="517.02" cy="476.60" r="1.9"/><circle cx="537.37" cy="479.40" r="1.9"/><circle cx="557.71" cy="478.40" r="1.9"/><circle cx="578.05" cy="478.50" r="1.9"/><circle cx="598.39" cy="477.90" r="1.9"/><circle cx="608.56" cy="479.11" r="1.9"/><circle cx="610.60" cy="479.53" r="1.9"/><circle cx="612.63" cy="480.16" r="1.9"/><circle cx="614.67" cy="480.95" r="1.9"/><circle cx="616.70" cy="481.48" r="1.9"/><circle cx="618.73" cy="481.89" r="1.9"/><circle cx="620.77" cy="481.92" r="1.9"/><circle cx="622.80" cy="481.77" r="1.9"/><circle cx="624.84" cy="481.56" r="1.9"/><circle cx="626.87" cy="481.45" r="1.9"/><circle cx="628.90" cy="481.53" r="1.9"/><circle cx="630.94" cy="481.46" r="1.9"/><circle cx="632.97" cy="481.49" r="1.9"/><circle cx="635.01" cy="481.46" r="1.9"/><circle cx="637.04" cy="481.25" r="1.9"/><circle cx="639.08" cy="480.84" r="1.9"/><circle cx="641.11" cy="480.16" r="1.9"/><circle cx="643.14" cy="479.50" r="1.9"/><circle cx="645.18" cy="479.00" r="1.9"/><circle cx="647.21" cy="478.71" r="1.9"/><circle cx="649.25" cy="478.66" r="1.9"/><circle cx="651.28" cy="478.63" r="1.9"/><circle cx="653.32" cy="478.46" r="1.9"/><circle cx="655.35" cy="478.08" r="1.9"/><circle cx="657.38" cy="477.89" r="1.9"/><circle cx="659.42" cy="479.00" r="1.9"/><circle cx="661.45" cy="480.22" r="1.9"/><circle cx="663.49" cy="480.54" r="1.9"/><circle cx="665.52" cy="481.04" r="1.9"/><circle cx="667.55" cy="481.63" r="1.9"/><circle cx="669.59" cy="481.98" r="1.9"/><circle cx="671.62" cy="482.14" r="1.9"/><circle cx="673.66" cy="482.09" r="1.9"/><circle cx="675.69" cy="481.93" r="1.9"/><circle cx="677.73" cy="481.81" r="1.9"/><circle cx="679.76" cy="481.85" r="1.9"/><circle cx="681.79" cy="481.48" r="1.9"/><circle cx="683.83" cy="481.25" r="1.9"/><circle cx="685.86" cy="479.02" r="1.9"/><circle cx="687.90" cy="476.65" r="1.9"/><circle cx="689.93" cy="474.54" r="1.9"/><circle cx="691.97" cy="472.27" r="1.9"/><circle cx="694.00" cy="471.48" r="1.9"/><circle cx="696.03" cy="470.81" r="1.9"/><circle cx="698.07" cy="472.40" r="1.9"/><circle cx="700.10" cy="470.94" r="1.9"/><circle cx="702.14" cy="469.55" r="1.9"/><circle cx="704.17" cy="469.94" r="1.9"/><circle cx="706.20" cy="470.13" r="1.9"/><circle cx="708.24" cy="470.57" r="1.9"/><circle cx="710.27" cy="470.91" r="1.9"/><circle cx="712.31" cy="474.07" r="1.9"/></g>

</g>
<g class="lab">
<g fill="#2C8465"><text x="715.71" y="416.7" style="font-size:13.7px" textLength="32.42" lengthAdjust="spacingAndGlyphs">China</text>
</g><g fill="#996D39"><text x="715.96" y="435.2" style="font-size:13.9px" textLength="77.36" lengthAdjust="spacingAndGlyphs">United States</text>
</g><g fill="#B13507"><text x="716.19" y="478.8" style="font-size:13.9px" textLength="35.64" lengthAdjust="spacingAndGlyphs">World</text>
</g><g fill="#6D3E91"><text x="715.63" y="497.6" style="font-size:13.9px" textLength="28.26" lengthAdjust="spacingAndGlyphs">India</text>
</g><g fill="#4C6A9C"><text x="716.0" y="516.3" style="font-size:13.9px" textLength="93.29" lengthAdjust="spacingAndGlyphs">United Kingdom</text>
</g>
</g>
<g class="foot"><g font-weight="bold"><text x="15.7" y="561.3" style="font-size:13px" textLength="73.56" lengthAdjust="spacingAndGlyphs">Data source:</text>
</g><text x="91.55" y="561.3" style="font-size:13px" textLength="507.55" lengthAdjust="spacingAndGlyphs">Long-term per capita fossil fuels - OWID based on UN, Gapminder, BP, Etemad &amp; Luciana</text>
<text x="15.66" y="581.0" style="font-size:13px" textLength="231.87" lengthAdjust="spacingAndGlyphs">OurWorldinData.org/fossil-fuels | CC BY</text>

</g>
</svg>
</body></html>
